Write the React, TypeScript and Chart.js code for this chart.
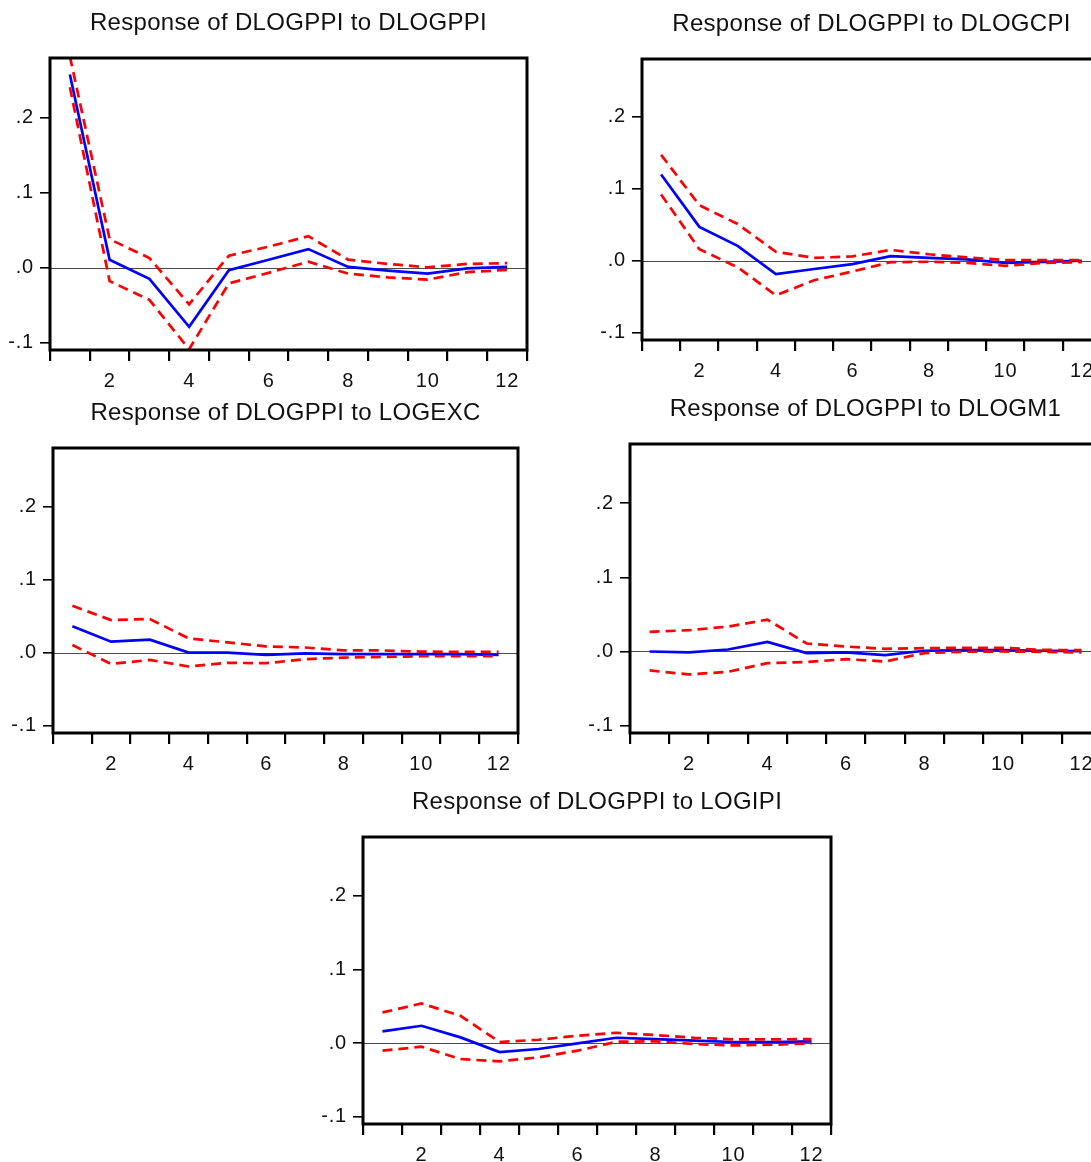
import React, { useEffect, useRef } from 'react';
import { Chart, registerables } from 'chart.js';

Chart.register(...registerables);

// ---------- data ----------
const periods = ['1', '2', '3', '4', '5', '6', '7', '8', '9', '10', '11', '12'];
const yMin = -0.11;
const yMax = 0.28;
const yTicks = [-0.1, 0, 0.1, 0.2];

const ppiResp = [0.258, 0.0106, -0.015, -0.079, -0.0035, 0.0106, 0.0248, 0.001, -0.004, -0.008, -0.001, 0.001];
const ppiUpper = [0.282, 0.038, 0.0128, -0.049, 0.016, 0.028, 0.042, 0.0106, 0.005, 0.0005, 0.005, 0.006];
const ppiLower = [0.241, -0.018, -0.043, -0.109, -0.021, -0.007, 0.008, -0.008, -0.013, -0.016, -0.006, -0.003];

const cpiResp = [0.1197, 0.047, 0.0207, -0.0184, -0.0115, -0.0046, 0.0064, 0.004, 0.002, -0.003, -0.0015, 0];
const cpiUpper = [0.147, 0.077, 0.051, 0.0124, 0.004, 0.006, 0.015, 0.009, 0.0046, 0.001, 0.001, 0.001];
const cpiLower = [0.092, 0.016, -0.009, -0.048, -0.027, -0.015, -0.002, -0.0014, -0.003, -0.007, -0.003, -0.002];

const excResp = [0.036, 0.015, 0.0177, 0, 0, -0.003, -0.001, -0.002, -0.002, -0.002, -0.002, -0.003];
const excUpper = [0.064, 0.0445, 0.046, 0.0195, 0.014, 0.0086, 0.007, 0.003, 0.003, 0.0014, 0.001, 0.001];
const excLower = [0.0105, -0.0155, -0.01, -0.019, -0.014, -0.0145, -0.009, -0.0068, -0.006, -0.005, -0.005, -0.005];

const m1Resp = [0, -0.0013, 0.0027, 0.013, -0.0022, -0.0013, -0.005, 0.001, 0.0018, 0.0018, 0.001, 0.0004];
const m1Upper = [0.0265, 0.0287, 0.0336, 0.043, 0.0108, 0.0067, 0.0036, 0.0045, 0.005, 0.005, 0.0022, 0.0018];
const m1Lower = [-0.0256, -0.031, -0.0274, -0.0157, -0.0143, -0.0103, -0.0135, -0.0022, -0.0004, 0, -0.0004, -0.0013];

const ipiResp = [0.0158, 0.0235, 0.0077, -0.0122, -0.0081, -0.0005, 0.0072, 0.0054, 0.0032, 0.0014, 0.0014, 0.0023];
const ipiUpper = [0.0416, 0.0538, 0.037, 0.0014, 0.0045, 0.01, 0.014, 0.0108, 0.0072, 0.005, 0.005, 0.0054];
const ipiLower = [-0.0104, -0.005, -0.0217, -0.0249, -0.0194, -0.0104, 0.0018, 0.0023, -0.0014, -0.0032, -0.0023, -0.0005];

const titles = [
  'Response of DLOGPPI to DLOGPPI',
  'Response of DLOGPPI to DLOGCPI',
  'Response of DLOGPPI to LOGEXC',
  'Response of DLOGPPI to DLOGM1',
  'Response of DLOGPPI to LOGIPI',
];

// ---------- layout (plot boxes in page pixels) ----------
const boxes = [
  { l: 50, t: 58, r: 527, b: 350 },
  { l: 641.5, t: 59, r: 1100, b: 340 },
  { l: 52.5, t: 448, r: 517, b: 733 },
  { l: 629.5, t: 444, r: 1100, b: 733 },
  { l: 362.5, t: 837, r: 830.5, b: 1124 },
];

const FONT = '"Liberation Sans", Arial, Helvetica, sans-serif';
const TEXT = '#111111';
const PAD_L = 50;
const PAD_T = 50;
const PAD_R = 12;
const PAD_B = 45;

function fmtY(v: number): string {
  if (Math.abs(v) < 1e-9) return '.0';
  const s = Math.abs(v).toFixed(1).replace(/^0/, '');
  return (v < 0 ? '-' : '') + s;
}

type PanelProps = {
  title: string;
  resp: number[];
  upper: number[];
  lower: number[];
  box: { l: number; t: number; r: number; b: number };
};

function Panel({ title, resp, upper, lower, box }: PanelProps) {
  const ref = useRef<HTMLCanvasElement | null>(null);
  const w = Math.round(box.r - box.l + PAD_L + PAD_R);
  const h = Math.round(box.b - box.t + PAD_T + PAD_B);

  useEffect(() => {
    if (!ref.current) return;
    const decor = {
      id: 'decor',
      beforeDraw(chart: any) {
        try { (chart.ctx as any).letterSpacing = '0.8px'; } catch (e) {}
      },
      beforeDatasetsDraw(chart: any) {
        const { ctx, chartArea: a, scales } = chart;
        const y0 = scales.y.getPixelForValue(0);
        ctx.save();
        ctx.strokeStyle = '#4a4a4a';
        ctx.lineWidth = 1;
        ctx.beginPath();
        ctx.moveTo(a.left, Math.round(y0) + 0.5);
        ctx.lineTo(a.right, Math.round(y0) + 0.5);
        ctx.stroke();
        ctx.restore();
      },
      afterDatasetsDraw(chart: any) {
        const { ctx, chartArea: a } = chart;
        ctx.save();
        ctx.strokeStyle = '#000';
        ctx.lineWidth = 3;
        ctx.strokeRect(a.left, a.top, a.right - a.left, a.bottom - a.top);
        ctx.restore();
      },
      afterDraw(chart: any) {
        const { ctx, chartArea: a } = chart;
        ctx.save();
        ctx.font = `24px ${FONT}`;
        try { (ctx as any).letterSpacing = '0.3px'; } catch (e) {}
        ctx.fillStyle = TEXT;
        ctx.textAlign = 'center';
        ctx.textBaseline = 'middle';
        ctx.fillText(title, (a.left + a.right) / 2, a.top - 35);
        ctx.restore();
      },
    };

    const chart = new Chart(ref.current, {
      type: 'line',
      data: {
        labels: periods,
        datasets: [
          {
            data: upper,
            borderColor: '#ff0000',
            borderWidth: 2.7,
            borderDash: [10, 6],
            pointRadius: 0,
            tension: 0,
            fill: false,
          },
          {
            data: lower,
            borderColor: '#ff0000',
            borderWidth: 2.7,
            borderDash: [10, 6],
            pointRadius: 0,
            tension: 0,
            fill: false,
          },
          {
            data: resp,
            borderColor: '#0000ff',
            borderWidth: 2.7,
            pointRadius: 0,
            tension: 0,
            fill: false,
          },
        ],
      },
      options: {
        animation: false,
        responsive: false,
        maintainAspectRatio: false,
        devicePixelRatio: 1,
        layout: { padding: { top: PAD_T, right: PAD_R, left: 0, bottom: 0 } },
        plugins: {
          legend: { display: false },
          tooltip: { enabled: false },
          title: { display: false },
        },
        scales: {
          x: {
            type: 'category',
            offset: true,
            border: { display: false },
            grid: {
              offset: true,
              drawOnChartArea: false,
              drawTicks: true,
              tickLength: 11,
              color: '#000',
              lineWidth: 2.2,
            },
            ticks: {
              autoSkip: false,
              maxRotation: 0,
              padding: 8,
              color: TEXT,
              font: { family: FONT, size: 20 },
              callback: (_v: any, i: number) => ((i + 1) % 2 === 0 ? periods[i] : ''),
            },
            afterFit: (s: any) => {
              s.height = PAD_B;
            },
          },
          y: {
            min: yMin,
            max: yMax,
            border: { display: false },
            afterBuildTicks: (s: any) => {
              s.ticks = yTicks.map((v) => ({ value: v }));
            },
            grid: {
              drawOnChartArea: false,
              drawTicks: true,
              tickLength: 10,
              color: '#000',
              lineWidth: 1.6,
            },
            ticks: {
              padding: 6,
              color: TEXT,
              font: { family: FONT, size: 20 },
              callback: (v: any) => fmtY(Number(v)),
            },
            afterFit: (s: any) => {
              s.width = PAD_L;
            },
          },
        },
      },
      plugins: [decor],
    } as any);
    return () => chart.destroy();
  }, []);

  return (
    <canvas
      ref={ref}
      width={w}
      height={h}
      style={{
        position: 'absolute',
        left: box.l - PAD_L,
        top: box.t - PAD_T,
        width: w,
        height: h,
      }}
    />
  );
}

export default function App() {
  return (
    <div
      style={{
        position: 'absolute',
        left: 0,
        top: 0,
        width: 1091,
        height: 1162,
        overflow: 'hidden',
        background: '#ffffff',
      }}
    >
      <Panel title={titles[0]} resp={ppiResp} upper={ppiUpper} lower={ppiLower} box={boxes[0]} />
      <Panel title={titles[1]} resp={cpiResp} upper={cpiUpper} lower={cpiLower} box={boxes[1]} />
      <Panel title={titles[2]} resp={excResp} upper={excUpper} lower={excLower} box={boxes[2]} />
      <Panel title={titles[3]} resp={m1Resp} upper={m1Upper} lower={m1Lower} box={boxes[3]} />
      <Panel title={titles[4]} resp={ipiResp} upper={ipiUpper} lower={ipiLower} box={boxes[4]} />
    </div>
  );
}
